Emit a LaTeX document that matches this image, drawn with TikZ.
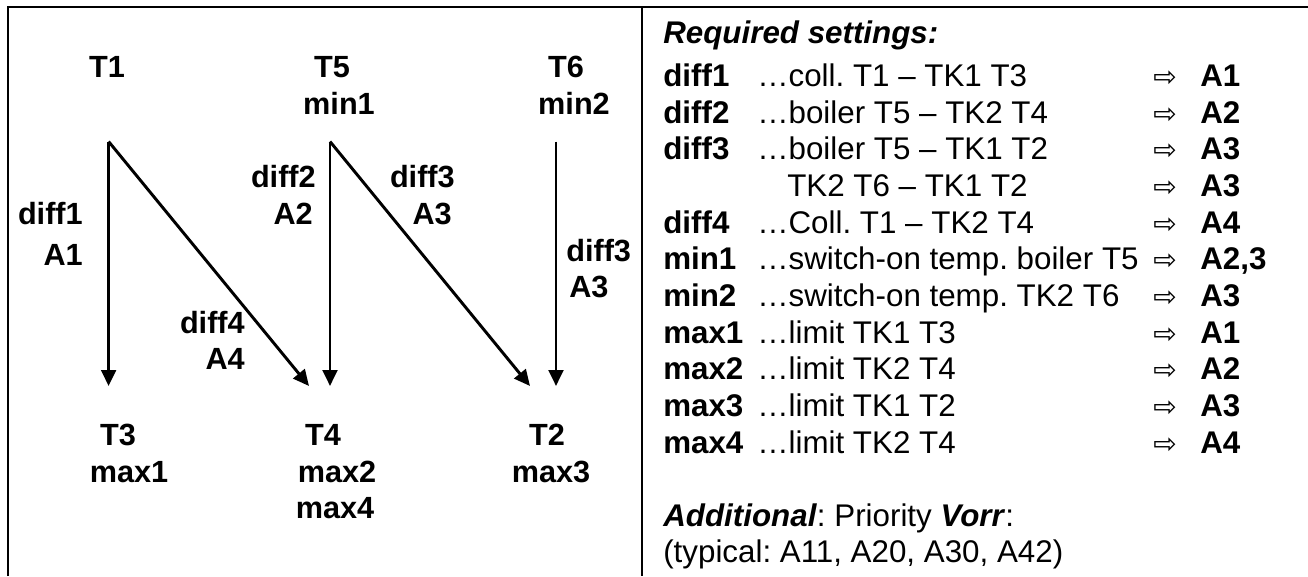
\documentclass[tikz,border=0pt]{standalone}
\usepackage{fontspec}
\setmainfont{Liberation Sans}
\newfontfamily\symfont{DejaVu Sans}
\usetikzlibrary{arrows.meta}
\frenchspacing
\begin{document}
\begin{tikzpicture}[x=0.75pt,y=-0.75pt,
  lbl/.style={font=\fontsize{23}{27.4}\selectfont\bfseries, inner sep=0pt, anchor=base},
  lble/.style={lbl, anchor=base east},
  lblw/.style={lbl, anchor=base west},
  conn/.style={line width=2.2pt, -{Triangle[length=12pt,width=11pt]}},
  key/.style={font=\fontsize{23.5}{27.4}\selectfont\bfseries, anchor=base west, inner sep=0pt},
  desc/.style={font=\fontsize{23.5}{27.4}\selectfont, anchor=base west, inner sep=0pt},
  arr/.style={font=\symfont\fontsize{21}{24}\selectfont, anchor=base west, inner sep=0pt},
  frame/.style={line width=1.5pt}]
\useasboundingbox (0,0) rectangle (1308,576);
% frame
\coordinate (fbl) at (8,576);
\coordinate (ftl) at (8,7);
\coordinate (ftr) at (1308,7);
\coordinate (dtop) at (642,7);
\coordinate (dbot) at (642,576);
\draw[frame] (fbl) -- (ftl) -- (ftr);
\draw[frame] (dtop) -- (dbot);

% left panel labels
\node[lbl] (t1) at (107,77) {T1};
\node[lbl] (t5) at (332,77) {T5};
\node[lbl] (min1) at (339,114) {min1};
\node[lbl] (t6) at (566,77) {T6};
\node[lbl] (min2) at (574,114) {min2};
\node[lbl] (t3) at (118,445) {T3};
\node[lbl] (max1) at (129,482) {max1};
\node[lbl] (t4) at (323,445) {T4};
\node[lbl] (max2) at (337,482) {max2};
\node[lbl] (max4) at (335,518) {max4};
\node[lbl] (t2) at (547,445) {T2};
\node[lbl] (max3) at (551,482) {max3};

\node[lble] (d1) at (83,224) {diff1};
\node[lble] (a1) at (83,265) {A1};
\node[lble] (d2) at (316,187) {diff2};
\node[lble] (a2) at (313,224) {A2};
\node[lble] (d3a) at (455,187) {diff3};
\node[lble] (a3a) at (452,224) {A3};
\node[lblw] (d3b) at (566,261) {diff3};
\node[lblw] (a3b) at (569,297) {A3};
\node[lble] (d4) at (245,333) {diff4};
\node[lble] (a4) at (245,369) {A4};

% connectors
\coordinate (s1) at (108.6,141.5);
\coordinate (s2) at (330,141.5);
\coordinate (s3) at (556,141.5);
\coordinate (e3) at (108.6,386);
\coordinate (e4a) at (309,386);
\coordinate (e4b) at (330,386);
\coordinate (e2a) at (530,386);
\coordinate (e2b) at (556,386);
\draw[conn] (s1) -- (e3);
\draw[conn] (s1) -- (e4a);
\draw[conn] (s2) -- (e4b);
\draw[conn] (s2) -- (e2a);
\draw[conn] (s3) -- (e2b);

% right panel
\node[desc] (title) at (663,43) {\textbf{\textit{Required settings:}}};

\node[key] (k1) at (663,86) {diff1};
\node[desc] (x1) at (757,86) {…coll. T1 – TK1 T3};
\node[arr] (p1) at (1153,86) {⇨};
\node[key] (v1) at (1200,86) {A1};

\node[key] (k2) at (663,123) {diff2};
\node[desc] (x2) at (757,123) {…boiler T5 – TK2 T4};
\node[arr] (p2) at (1153,123) {⇨};
\node[key] (v2) at (1200,123) {A2};

\node[key] (k3) at (663,159) {diff3};
\node[desc] (x3) at (757,159) {…boiler T5 – TK1 T2};
\node[arr] (p3) at (1153,159) {⇨};
\node[key] (v3) at (1200,159) {A3};

\node[desc] (x3b) at (787,196) {TK2 T6 – TK1 T2};
\node[arr] (p3b) at (1153,196) {⇨};
\node[key] (v3b) at (1200,196) {A3};

\node[key] (k4) at (663,233) {diff4};
\node[desc] (x4) at (757,233) {…Coll. T1 – TK2 T4};
\node[arr] (p4) at (1153,233) {⇨};
\node[key] (v4) at (1200,233) {A4};

\node[key] (k5) at (663,269) {min1};
\node[desc] (x5) at (757,269) {…switch-on temp. boiler T5};
\node[arr] (p5) at (1153,269) {⇨};
\node[key] (v5) at (1200,269) {A2,3};

\node[key] (k6) at (663,306) {min2};
\node[desc] (x6) at (757,306) {…switch-on temp. TK2 T6};
\node[arr] (p6) at (1153,306) {⇨};
\node[key] (v6) at (1200,306) {A3};

\node[key] (k7) at (663,343) {max1};
\node[desc] (x7) at (757,343) {…limit TK1 T3};
\node[arr] (p7) at (1153,343) {⇨};
\node[key] (v7) at (1200,343) {A1};

\node[key] (k8) at (663,379) {max2};
\node[desc] (x8) at (757,379) {…limit TK2 T4};
\node[arr] (p8) at (1153,379) {⇨};
\node[key] (v8) at (1200,379) {A2};

\node[key] (k9) at (663,416) {max3};
\node[desc] (x9) at (757,416) {…limit TK1 T2};
\node[arr] (p9) at (1153,416) {⇨};
\node[key] (v9) at (1200,416) {A3};

\node[key] (k10) at (663,453) {max4};
\node[desc] (x10) at (757,453) {…limit TK2 T4};
\node[arr] (p10) at (1153,453) {⇨};
\node[key] (v10) at (1200,453) {A4};

\node[desc] (add) at (663,526) {\textbf{\textit{Additional}}: Priority \textbf{\textit{Vorr}}:};
\node[desc] (typ) at (663,562) {(typical: A11, A20, A30, A42)};
\end{tikzpicture}
\end{document}
